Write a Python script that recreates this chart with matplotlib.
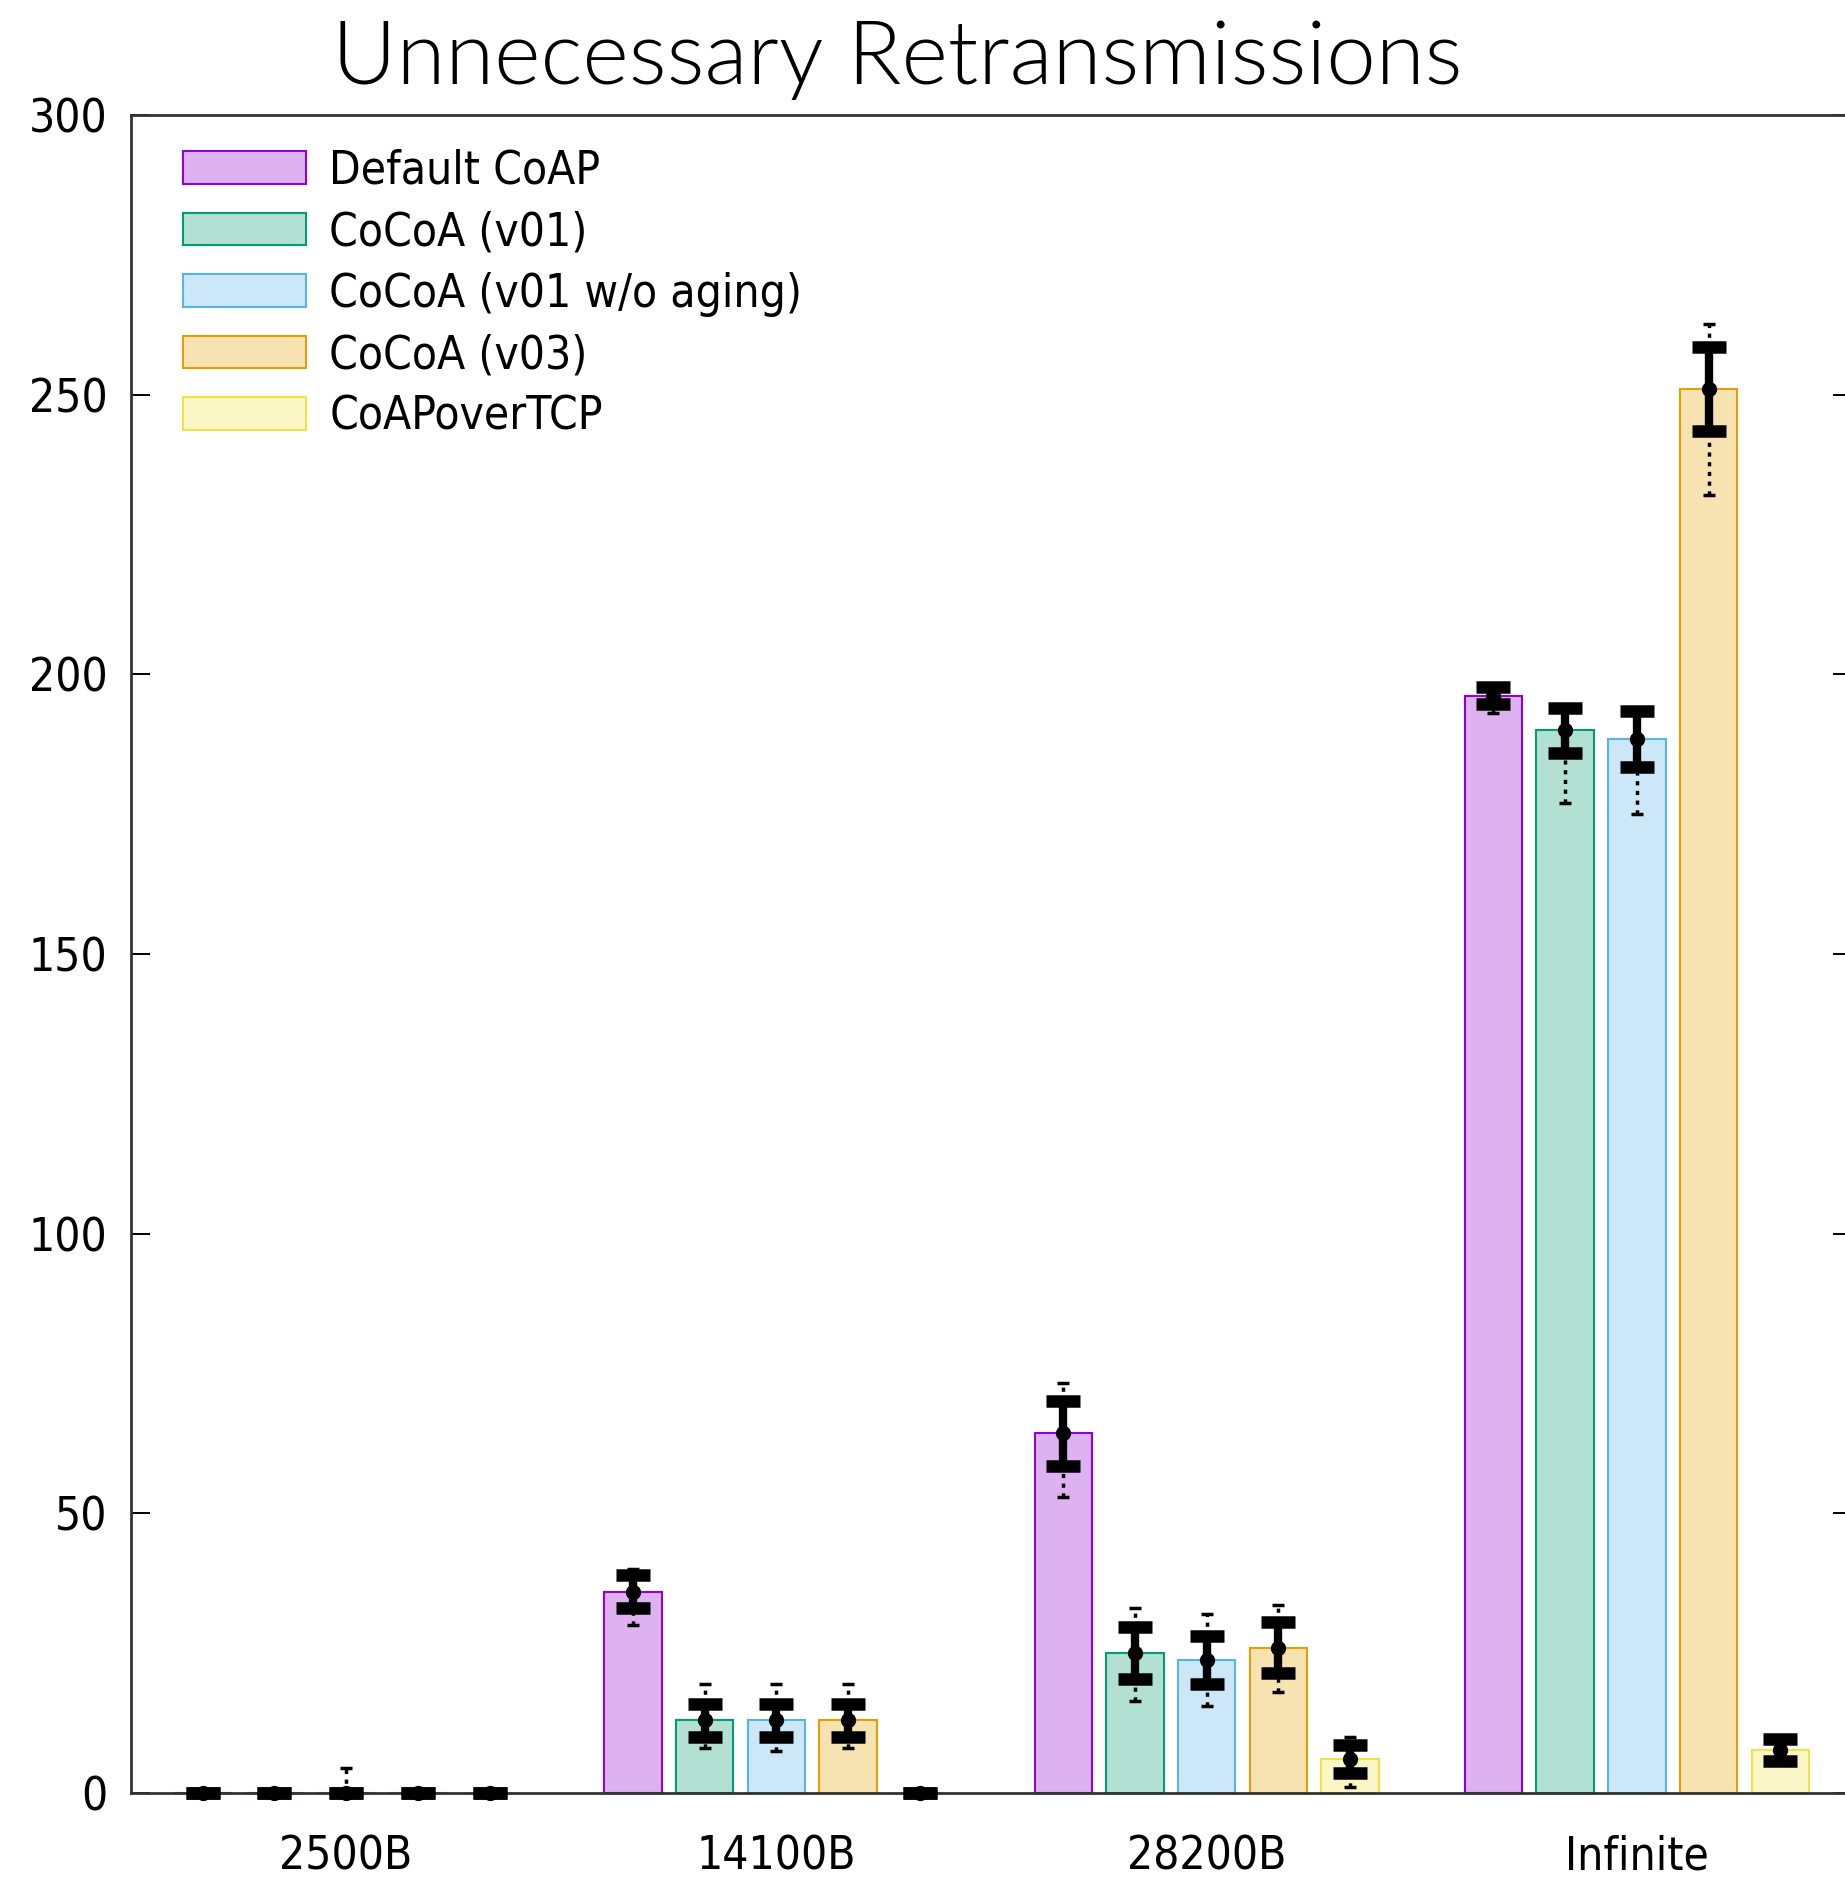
import numpy as np
import matplotlib
matplotlib.use("Agg")
import matplotlib.pyplot as plt
from matplotlib import font_manager as fm

# values
groups = ["2500B", "14100B", "28200B", "Infinite"]
series = ["Default CoAP", "CoCoA (v01)", "CoCoA (v01 w/o aging)", "CoCoA (v03)", "CoAPoverTCP"]

default_coap = [0, 36.0, 64.3, 196.2]
cocoa_v01 = [0, 13.0, 25.0, 190.0]
cocoa_v01_noaging = [0, 13.0, 23.8, 188.5]
cocoa_v03 = [0, 13.0, 26.0, 251.0]
coap_tcp = [0, 0, 6.0, 7.7]

default_err = [0, 3.0, 5.8, 1.5]
v01_err = [0, 3.0, 4.7, 4.0]
noaging_err = [0, 3.0, 4.3, 5.0]
v03_err = [0, 3.0, 4.5, 7.5]
tcp_err = [0, 0, 2.5, 2.0]

default_min = [0, 30.0, 53.0, 193.0]
default_max = [0, 40.0, 73.3, 197.0]
v01_min = [0, 8.0, 16.5, 177.0]
v01_max = [0, 19.5, 33.0, 194.3]
noaging_min = [0, 7.5, 15.5, 175.0]
noaging_max = [4.5, 19.5, 32.0, 193.4]
v03_min = [0, 8.0, 18.0, 232.0]
v03_max = [0, 19.5, 33.6, 262.6]
tcp_min = [0, 0, 1.0, 5.7]
tcp_max = [0, 0, 10.0, 9.7]

means = [default_coap, cocoa_v01, cocoa_v01_noaging, cocoa_v03, coap_tcp]
errs = [default_err, v01_err, noaging_err, v03_err, tcp_err]
mins = [default_min, v01_min, noaging_min, v03_min, tcp_min]
maxs = [default_max, v01_max, noaging_max, v03_max, tcp_max]

# gnuplot default palette, filled with 0.3 density
colors = ["#9400d3", "#009e73", "#56b4e9", "#e69f00", "#f0e442"]

# gnuplot style font: try a condensed DejaVu first
cond = [f.fname for f in fm.fontManager.ttflist if "DejaVuSansCondensed.ttf" in f.fname]
narrow = [f.fname for f in fm.fontManager.ttflist if "LiberationSansNarrow-Regular" in f.fname]
if cond:
    tick_font = fm.FontProperties(fname=cond[0], size=33)
elif narrow:
    tick_font = fm.FontProperties(fname=narrow[0], size=36)
else:
    tick_font = fm.FontProperties(family="DejaVu Sans", size=30)

# title looks like Calibri Light: take a light humanist sans if one is there
title_font = fm.FontProperties(family="Lato", size=64)
for fam in ["Lato", "Open Sans", "Noto Sans"]:
    light = [f.fname for f in fm.fontManager.ttflist
             if f.name == fam and f.weight == 300 and f.style == "normal"]
    if light:
        title_font = fm.FontProperties(fname=light[0], size=64)
        break

W, H = 1845, 1885
fig = plt.figure(figsize=(W / 100, H / 100), dpi=100)
ax = fig.add_axes([131 / W, 92 / H, 1721 / W, 1678 / H])

x = np.arange(len(groups)) * 6
for j, name in enumerate(series):
    pos = x + (j - 2)
    rgb = matplotlib.colors.to_rgb(colors[j])
    ax.bar(pos, means[j], width=0.8, facecolor=(*rgb, 0.3), edgecolor=colors[j],
           linewidth=1.5, label=name, zorder=2)
    # min / max whiskers as dotted lines beyond the error caps
    for k in range(len(groups)):
        top = means[j][k] + errs[j][k]
        bot = means[j][k] - errs[j][k]
        if maxs[j][k] > top + 0.5:
            ax.vlines(pos[k], top, maxs[j][k], colors="black", linewidth=2.5,
                      linestyles=(0, (1.2, 1.6)), zorder=3)
            ax.plot(pos[k], maxs[j][k], marker="_", markersize=8, mew=2.5, color="black", zorder=3)
        if mins[j][k] < bot - 0.5:
            ax.vlines(pos[k], mins[j][k], bot, colors="black", linewidth=2.5,
                      linestyles=(0, (1.2, 1.6)), zorder=3)
            ax.plot(pos[k], mins[j][k], marker="_", markersize=8, mew=2.5, color="black", zorder=3)
    ax.errorbar(pos, means[j], yerr=errs[j], fmt="o", color="black", markersize=10,
                ecolor="black", elinewidth=6, capsize=12, capthick=9, zorder=4,
                clip_on=False)

ax.set_xlim(-3, 21)
ax.set_ylim(0, 300)
ax.set_yticks(range(0, 301, 50))
ax.set_xticks(x)
ax.set_xticklabels(groups, fontproperties=tick_font)
for lab in ax.get_yticklabels():
    lab.set_fontproperties(tick_font)
ax.tick_params(axis="x", length=0, pad=30)
ax.tick_params(axis="y", direction="in", length=14, width=1.4, pad=17,
               left=True, right=True)
for sp in ax.spines.values():
    sp.set_linewidth(2)
    sp.set_color("#333333")

leg = ax.legend(loc="upper left", bbox_to_anchor=(0.03, 0.980), frameon=False,
                prop=tick_font, handlelength=2.7, handleheight=0.7,
                handletextpad=0.5, labelspacing=0.36, borderpad=0, borderaxespad=0)

fig.text(897 / W, 1 - 84 / H, "Unnecessary Retransmissions", ha="center", va="baseline",
         fontproperties=title_font)

fig.savefig("out.png", dpi=100)
